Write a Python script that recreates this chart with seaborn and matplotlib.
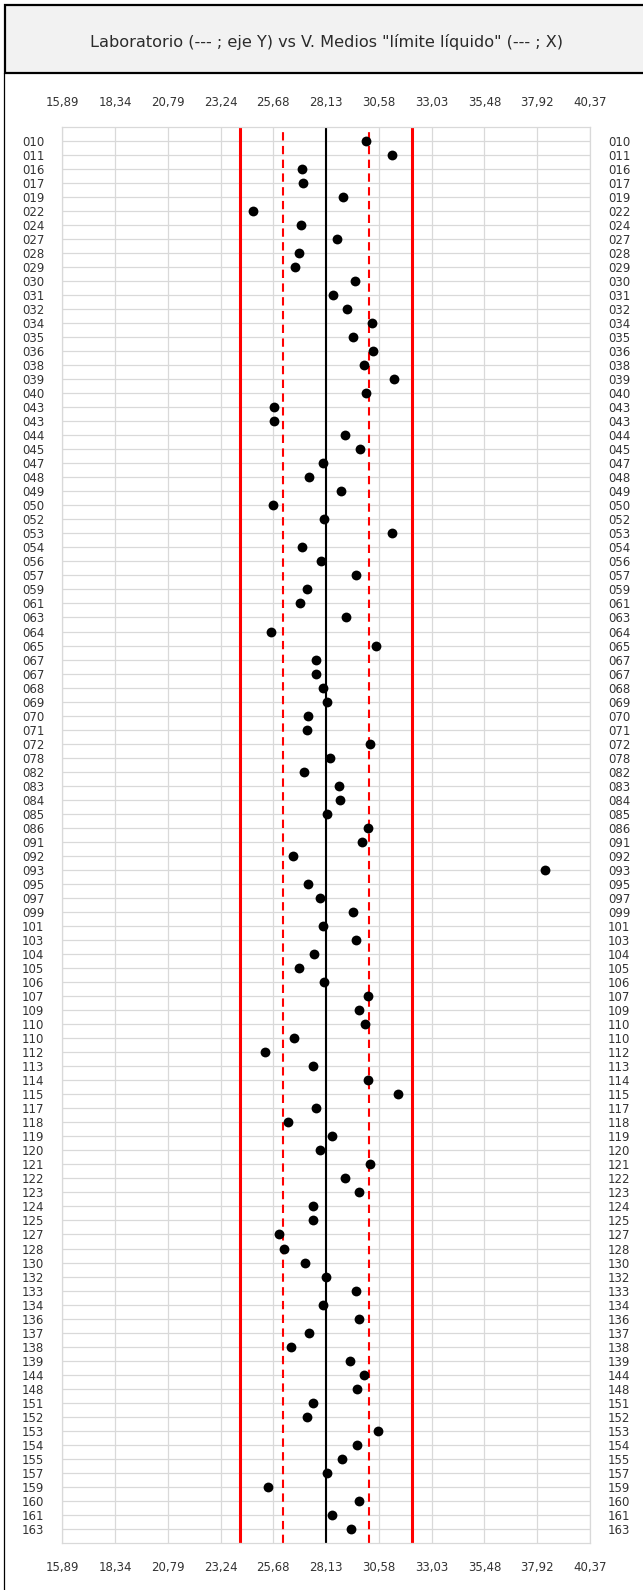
import matplotlib
matplotlib.use("Agg")
import matplotlib.pyplot as plt
from matplotlib.patches import Rectangle
from matplotlib.lines import Line2D
import seaborn as sns
import pandas as pd
import numpy as np

# ---------------- data ----------------
labs = ["010", "011", "016", "017", "019", "022", "024", "027", "028", "029",
        "030", "031", "032", "034", "035", "036", "038", "039", "040", "043",
        "043", "044", "045", "047", "048", "049", "050", "052", "053", "054",
        "056", "057", "059", "061", "063", "064", "065", "067", "067", "068",
        "069", "070", "071", "072", "078", "082", "083", "084", "085", "086",
        "091", "092", "093", "095", "097", "099", "101", "103", "104", "105",
        "106", "107", "109", "110", "110", "112", "113", "114", "115", "117",
        "118", "119", "120", "121", "122", "123", "124", "125", "127", "128",
        "130", "132", "133", "134", "136", "137", "138", "139", "144", "148",
        "151", "152", "153", "154", "155", "157", "159", "160", "161", "163"]

values = [30.00, 31.19, 27.00, 27.05, 28.93, 24.76, 26.97, 28.66, 26.86, 26.71,
          29.46, 28.47, 29.12, 30.24, 29.40, 30.30, 29.91, 31.27, 30.00, 25.70,
          25.70, 29.00, 29.69, 27.99, 27.33, 28.81, 25.65, 28.05, 31.19, 27.02,
          27.91, 29.52, 27.26, 26.94, 29.07, 25.56, 30.47, 27.65, 27.65, 27.99,
          28.18, 27.28, 27.26, 30.16, 28.30, 27.12, 28.73, 28.80, 28.18, 30.07,
          29.82, 26.61, 38.27, 27.31, 27.85, 29.40, 27.99, 29.52, 27.56, 26.86,
          28.05, 30.07, 29.65, 29.96, 26.66, 25.31, 27.51, 30.07, 31.49, 27.65,
          26.35, 28.42, 27.87, 30.16, 29.00, 29.65, 27.51, 27.51, 25.95, 26.16,
          27.15, 28.13, 29.52, 27.99, 29.65, 27.36, 26.49, 29.26, 29.91, 29.57,
          27.53, 27.23, 30.53, 29.57, 28.86, 28.19, 25.45, 29.65, 28.39, 29.31]

x_ticks = [15.89, 18.34, 20.79, 23.24, 25.68, 28.13, 30.58, 33.03, 35.48, 37.92, 40.37]
x_tick_labels = ["15,89", "18,34", "20,79", "23,24", "25,68", "28,13",
                 "30,58", "33,03", "35,48", "37,92", "40,37"]

mean_value = 28.13
limit_inner = [26.12, 30.14]   # dashed red
limit_outer = [24.12, 32.14]   # solid red

title = 'Laboratorio (--- ; eje Y) vs V. Medios "límite líquido" (--- ; X)'

# ---------------- figure ----------------
sns.set_theme(style="white")
plt.rcParams["font.family"] = ["DejaVu Sans"]

W, H = 643, 1590
fig = plt.figure(figsize=(W / 100, H / 100), dpi=100)

# frames
fig.add_artist(Rectangle((5 / W, 1 - 73 / H), 1.0, (73 - 5) / H,
                         transform=fig.transFigure, facecolor="#f2f2f2",
                         edgecolor="black", lw=1.6, zorder=0))
fig.add_artist(Line2D([4 / W, 4 / W], [0, 1 - 73 / H], transform=fig.transFigure,
                      color="black", lw=0.9))
fig.text(326 / W, 1 - 42 / H, title, ha="center", va="center",
         fontsize=11.6, color="#2b2b2b")

left, right, top, bottom = 62.3, 589.8, 126.7, 1543.0
ax = fig.add_axes([left / W, 1 - bottom / H, (right - left) / W, (bottom - top) / H])

df = pd.DataFrame({"lab": labs, "value": values, "row": np.arange(len(labs))})

grid_c = "#d9d9d9"
for v in x_ticks:
    ax.axvline(v, color=grid_c, lw=0.9, zorder=0)
for r in df["row"]:
    ax.axhline(r, color=grid_c, lw=0.9, zorder=0)

for v in limit_outer:
    ax.axvline(v, color="#ff0000", lw=2.2, zorder=2)
for v in limit_inner:
    ax.axvline(v, color="#ff0000", lw=1.5, ls=(0, (4, 2.6)), zorder=2)
ax.axvline(mean_value, color="black", lw=1.5, zorder=2)

sns.scatterplot(data=df, x="value", y="row", ax=ax, color="black", s=50,
                edgecolor="black", linewidth=0, zorder=3, legend=False)

ax.set_xlim(x_ticks[0], x_ticks[-1])
ax.set_ylim(len(labs), -1)
ax.set_xticks(x_ticks)
ax.set_xticklabels(x_tick_labels)
ax.set_yticks(df["row"])
ax.set_yticklabels(labs)
ax.set_xlabel("")
ax.set_ylabel("")
ax.grid(False)
for sp in ax.spines.values():
    sp.set_color(grid_c)
    sp.set_linewidth(0.9)

ax.tick_params(axis="x", length=0, pad=13, labelsize=8.5, labelcolor="#333333",
               top=False, bottom=False, labeltop=True, labelbottom=True)
ax.tick_params(axis="y", length=0, pad=13, labelsize=8.5, labelcolor="#333333",
               left=False, right=False, labelleft=True, labelright=True)

fig.savefig("out.png", dpi=100)
